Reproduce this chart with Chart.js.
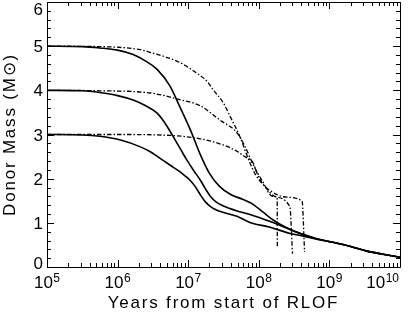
<!DOCTYPE html>
<html><head><meta charset="utf-8">
<script src="https://cdn.jsdelivr.net/npm/chart.js@4.4.1/dist/chart.umd.min.js"></script>
<style>html,body{margin:0;padding:0;background:#fff}</style>
</head><body>
<canvas id="c" width="420" height="317" style="display:block;width:420px;height:317px"></canvas>
<script>
// ---- data ----
const xTickValues = [1e5, 1e6, 1e7, 1e8, 1e9, 1e10];
const xTickExponents = ['5', '6', '7', '8', '9', '10'];
const yTickValues = [0, 1, 2, 3, 4, 5, 6];

const solid5Years = [1e5,3.2e5,5.6e5,1e6,1.66e6,2.5e6,3.6e6,5.5e6,7.6e6,1.07e7,1.48e7,2e7,2.8e7,4e7,6e7,7.9e7,1.15e8,1.58e8,2e8,2.8e8,4e8,6.6e8,1.12e9,1.95e9,3.4e9,5.75e9,1e10];
const solid5Mass  = [5.0,4.99,4.96,4.91,4.81,4.66,4.48,4.1,3.63,3.11,2.55,2.12,1.82,1.64,1.53,1.44,1.24,1.07,0.97,0.85,0.75,0.64,0.56,0.47,0.36,0.29,0.22];

const solid4Years = [1e5,3.2e5,5.6e5,1e6,1.66e6,2.5e6,3.6e6,4.5e6,5.5e6,6.3e6,7.9e6,9.5e6,1.2e7,1.48e7,1.74e7,2.04e7,2.5e7,3.16e7,4.9e7,7.5e7,1.45e8,2.75e8,4e8,6.6e8,1.12e9,1.95e9,3.4e9,5.75e9,1e10];
const solid4Mass  = [4.0,3.99,3.95,3.88,3.78,3.65,3.49,3.3,3.08,2.92,2.65,2.43,2.18,1.97,1.78,1.61,1.47,1.38,1.27,1.19,1.03,0.85,0.75,0.64,0.56,0.47,0.36,0.29,0.22];

const solid3Years = [1e5,3.2e5,5.6e5,1.07e6,2.1e6,2.9e6,4e6,5.5e6,7.6e6,9.1e6,1.07e7,1.26e7,1.48e7,1.74e7,2.14e7,2.8e7,4e7,4.9e7,7.5e7,1.45e8,2.75e8,4e8,6.6e8,1.12e9,1.95e9,3.4e9,5.75e9,1e10];
const solid3Mass  = [3.0,2.99,2.96,2.88,2.72,2.61,2.46,2.31,2.16,2.06,1.96,1.82,1.64,1.48,1.35,1.26,1.19,1.15,1.01,0.9,0.76,0.71,0.63,0.56,0.47,0.36,0.29,0.22];

const dashdot5Years = [1e5,5.6e5,2.1e6,2.9e6,7.6e6,1.32e7,1.86e7,2.24e7,3.16e7,3.9e7,5.4e7,7.1e7,8.9e7,1.26e8,1.7e8,1.82e8,1.83e8];
const dashdot5Mass  = [5.0,4.99,4.92,4.86,4.63,4.39,4.2,4.02,3.71,3.42,2.95,2.45,2.1,1.8,1.6,1.56,0.46];

const dashdot4Years = [1e5,5.6e5,2.9e6,7.6e6,1.48e7,2.8e7,4.9e7,6.3e7,8.3e7,1.12e8,1.55e8,2.75e8,3.0e8];
const dashdot4Mass  = [4.0,3.99,3.94,3.79,3.65,3.33,3.04,2.75,2.32,1.95,1.6,1.37,0.3];

const dashdot3Years = [1e5,1e6,5.5e6,1.62e7,3.16e7,4.9e7,6.3e7,8.3e7,9.3e7,1.12e8,1.58e8,2.5e8,4.1e8,4.45e8];
const dashdot3Mass  = [3.0,3.0,2.98,2.89,2.76,2.62,2.5,2.36,2.15,1.9,1.69,1.58,1.49,0.34];

const xTitle = 'Years from start of RLOF';
const yTitle = 'Donor Mass (M\u2299)';

// ---- build chart ----
const pts = (xs, ys) => xs.map((x, i) => ({x: x, y: ys[i]}));
const FONT = '"Liberation Sans", Arial, Helvetica, sans-serif';

function solid(xs, ys) {
  return {data: pts(xs, ys), showLine: true, borderColor: '#000', borderWidth: 1.6,
          pointRadius: 0, cubicInterpolationMode: 'monotone', fill: false};
}
function dashdot(xs, ys) {
  return {data: pts(xs, ys), showLine: true, borderColor: '#000', borderWidth: 1.3,
          borderDash: [4.5, 2, 1.5, 2], pointRadius: 0, cubicInterpolationMode: 'monotone', fill: false};
}

const axesPlugin = {
  id: 'idlAxes',
  beforeDraw(chart) { chart.ctx.letterSpacing = '1.8px'; },
  beforeDatasetsDraw(chart) { chart.ctx.letterSpacing = '0px'; },
  afterDraw(chart) {
    const ctx = chart.ctx;
    const {left, right, top, bottom} = chart.chartArea;
    const xs = chart.scales.x, ys = chart.scales.y;
    ctx.save();
    ctx.letterSpacing = '0px';
    ctx.strokeStyle = '#000';
    ctx.lineWidth = 1;
    ctx.beginPath();
    ctx.rect(left + 0.5, top + 0.5, right - left, bottom - top);
    ctx.stroke();
    // x ticks (log, major + minor), inward on bottom and top
    ctx.beginPath();
    for (let d = 0; d < xTickValues.length; d++) {
      const dec = xTickValues[d];
      for (let m = 1; m <= 9; m++) {
        const v = dec * m;
        if (v > xTickValues[xTickValues.length - 1]) break;
        const px = Math.round(xs.getPixelForValue(v)) + 0.5;
        const len = m === 1 ? 7 : 4;
        ctx.moveTo(px, bottom); ctx.lineTo(px, bottom - len);
        ctx.moveTo(px, top); ctx.lineTo(px, top + len);
      }
    }
    // y ticks, inward on left and right
    const yMin = yTickValues[0], yMax = yTickValues[yTickValues.length - 1];
    for (let k = 0; k <= (yMax - yMin) * 5; k++) {
      const v = yMin + k / 5;
      const py = Math.round(ys.getPixelForValue(v)) + 0.5;
      const len = k % 5 === 0 ? 7 : 4;
      ctx.moveTo(left, py); ctx.lineTo(left + len, py);
      ctx.moveTo(right, py); ctx.lineTo(right - len, py);
    }
    ctx.stroke();

    // tick labels
    ctx.fillStyle = '#000';
    ctx.textBaseline = 'alphabetic';
    ctx.font = '17px ' + FONT;
    ctx.textAlign = 'right';
    yTickValues.forEach(v => {
      let cy = ys.getPixelForValue(v);
      cy = Math.max(top + 6.5, Math.min(bottom - 4.5, cy));
      ctx.fillText(String(v), left - 4, cy + 6.1);
    });
    ctx.textAlign = 'left';
    xTickValues.forEach((v, i) => {
      ctx.font = '17px ' + FONT;
      const wBase = ctx.measureText('10').width;
      ctx.font = '12px ' + FONT;
      const wSup = ctx.measureText(xTickExponents[i]).width;
      const w = wBase + wSup + 0.5;
      let x0 = xs.getPixelForValue(v) - w / 2;
      if (x0 + w > right - 1) x0 = right - 1 - w;
      ctx.font = '17px ' + FONT;
      ctx.fillText('10', x0, 288);
      ctx.font = '12px ' + FONT;
      ctx.fillText(xTickExponents[i], x0 + wBase + 0.5, 282);
    });
    ctx.restore();
  }
};

new Chart(document.getElementById('c'), {
  type: 'scatter',
  data: {
    datasets: [
      solid(solid5Years, solid5Mass),
      solid(solid4Years, solid4Mass),
      solid(solid3Years, solid3Mass),
      dashdot(dashdot5Years, dashdot5Mass),
      dashdot(dashdot4Years, dashdot4Mass),
      dashdot(dashdot3Years, dashdot3Mass)
    ]
  },
  options: {
    responsive: false,
    animation: false,
    devicePixelRatio: 1,
    layout: {padding: {top: 2, right: 20, left: 0, bottom: 0}},
    plugins: {legend: {display: false}, tooltip: {enabled: false}},
    scales: {
      x: {
        type: 'logarithmic', min: xTickValues[0], max: xTickValues[xTickValues.length - 1],
        grid: {display: false}, border: {display: false},
        ticks: {display: false},
        title: {display: true, text: xTitle, color: '#000', font: {family: FONT, size: 17}, padding: {top: 0, bottom: 3}},
        afterFit(s) { s.height = 50; }
      },
      y: {
        type: 'linear', min: yTickValues[0], max: yTickValues[yTickValues.length - 1],
        grid: {display: false}, border: {display: false},
        ticks: {display: false},
        title: {display: true, text: yTitle, color: '#000', font: {family: FONT, size: 17}, padding: {top: 0, bottom: 0}},
        afterFit(s) { s.width = 47; }
      }
    }
  },
  plugins: [axesPlugin]
});
</script>
</body></html>
